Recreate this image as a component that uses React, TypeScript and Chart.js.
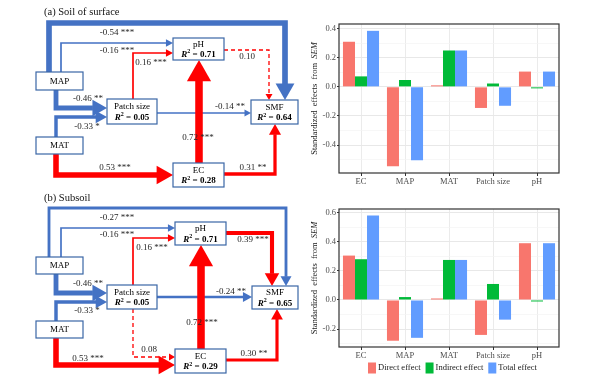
import React, { useEffect, useRef } from 'react';
import { Chart, registerables } from 'chart.js';

Chart.register(...registerables);

// ---------------- data: bar charts ----------------
const categories = ['EC', 'MAP', 'MAT', 'Patch size', 'pH'];
const effectNames = ['Direct effect', 'Indirect effect', 'Total effect'];
const effectColors = ['#F8766D', '#00BA38', '#619CFF'];

const surfaceDirect = [0.31, -0.545, 0.004, -0.145, 0.105];
const surfaceIndirect = [0.072, 0.047, 0.25, 0.023, -0.004];
const surfaceTotal = [0.385, -0.505, 0.25, -0.13, 0.105];
const surfaceYTicks = [-0.4, -0.2, 0, 0.2, 0.4];
const surfaceYRange = [-0.592, 0.432];

const subsoilDirect = [0.305, -0.28, 0.004, -0.24, 0.39];
const subsoilIndirect = [0.28, 0.02, 0.275, 0.11, -0.004];
const subsoilTotal = [0.58, -0.26, 0.275, -0.135, 0.39];
const subsoilYTicks = [-0.2, 0, 0.2, 0.4, 0.6];
const subsoilYRange = [-0.323, 0.625];

// ---------------- data: SEM diagrams ----------------
const panelTitles = ['(a) Soil of surface', '(b) Subsoil'];
const nodeNames = ['MAP', 'MAT', 'Patch size', 'pH', 'EC', 'SMF'];
const surfaceR2 = [null, null, 0.05, 0.71, 0.28, 0.64];
const subsoilR2 = [null, null, 0.05, 0.71, 0.29, 0.65];

const pathFrom = ['MAP', 'MAP', 'Patch size', 'pH', 'MAP', 'MAT', 'Patch size', 'MAT', 'EC', 'EC', 'Patch size'];
const pathTo = ['SMF', 'pH', 'pH', 'SMF', 'Patch size', 'Patch size', 'SMF', 'EC', 'pH', 'SMF', 'EC'];
const surfaceCoef = [-0.54, -0.16, 0.16, 0.10, -0.46, -0.33, -0.14, 0.53, 0.72, 0.31, null];
const surfaceSig = ['***', '***', '***', '', '**', '*', '**', '***', '***', '**', ''];
const subsoilCoef = [-0.27, -0.16, 0.16, 0.39, -0.46, -0.33, -0.24, 0.53, 0.72, 0.30, 0.08];
const subsoilSig = ['***', '***', '***', '***', '**', '*', '**', '***', '***', '**', ''];

// ---------------- layout (positions only) ----------------
const SERIF = '"Liberation Serif", "Times New Roman", serif';
const RED = '#FF0000';
const BLUE = '#4472C4';
const BOX_BORDER = '#3A66A6';

const PANELS = [
  {
    y0: 0,
    title: [44, 12],
    boxes: {
      MAP: [36, 72, 83, 90],
      MAT: [36, 137, 83, 154],
      'Patch size': [107, 99, 157, 124],
      pH: [173, 38, 224, 60],
      EC: [173, 163, 224, 187],
      SMF: [251, 100, 298, 124],
    } as Record<string, number[]>,
    routes: [
      [[49, 72], [49, 23], [285, 23], [285, 100]],
      [[61, 72], [61, 43], [173, 43]],
      [[133, 99], [133, 53], [173, 53]],
      [[224, 50], [269, 50], [269, 100]],
      [[56, 90], [56, 108], [107, 108]],
      [[56, 137], [56, 117], [107, 117]],
      [[157, 113], [251, 113]],
      [[56, 154], [56, 175], [173, 175]],
      [[199, 163], [199, 60]],
      [[224, 174], [275, 174], [275, 124]],
      null,
    ],
    labels: [[117, 33], [117, 51], [151, 63], [247, 57], [88, 99], [87, 127], [230, 107], [115, 168], [198, 138], [253, 168], null],
  },
  {
    y0: 185,
    title: [44, 13],
    boxes: {
      MAP: [36, 72, 83, 89],
      MAT: [36, 136, 83, 153],
      'Patch size': [107, 100, 157, 124],
      pH: [175, 37, 226, 60],
      EC: [175, 164, 226, 188],
      SMF: [252, 101, 298, 124],
    } as Record<string, number[]>,
    routes: [
      [[49, 72], [49, 23], [286, 23], [286, 101]],
      [[61, 72], [61, 43], [175, 43]],
      [[133, 100], [133, 53], [175, 53]],
      [[226, 48], [272, 48], [272, 101]],
      [[56, 89], [56, 108], [107, 108]],
      [[56, 136], [56, 117], [107, 117]],
      [[157, 112], [252, 112]],
      [[56, 153], [56, 180], [175, 180]],
      [[201, 164], [201, 60]],
      [[226, 175], [277, 175], [277, 124]],
      [[133, 124], [133, 172], [175, 172]],
    ],
    labels: [[117, 33], [117, 50], [152, 63], [253, 55], [88, 99], [87, 126], [231, 107], [88, 174], [202, 138], [254, 169], [149, 165]],
  },
];

function drawArrow(ctx: CanvasRenderingContext2D, pts: number[][], lw: number, color: string, dashed: boolean) {
  const n = pts.length;
  const [tx, ty] = pts[n - 1];
  const [sx, sy] = pts[n - 2];
  const len = Math.hypot(tx - sx, ty - sy) || 1;
  const dx = (tx - sx) / len;
  const dy = (ty - sy) / len;
  const L = dashed ? 6 : 2.4 * lw + 3;
  const W = dashed ? 7 : 2.8 * lw + 3;
  const bx = tx - dx * L;
  const by = ty - dy * L;
  ctx.save();
  ctx.strokeStyle = color;
  ctx.fillStyle = color;
  ctx.lineWidth = lw;
  ctx.lineJoin = 'miter';
  ctx.lineCap = 'butt';
  if (dashed) ctx.setLineDash([4, 3]);
  ctx.beginPath();
  ctx.moveTo(pts[0][0], pts[0][1]);
  for (let k = 1; k < n - 1; k++) ctx.lineTo(pts[k][0], pts[k][1]);
  ctx.lineTo(bx + dx * 0.5, by + dy * 0.5);
  ctx.stroke();
  ctx.setLineDash([]);
  ctx.beginPath();
  ctx.moveTo(tx, ty);
  ctx.lineTo(bx - dy * W / 2, by + dx * W / 2);
  ctx.lineTo(bx + dy * W / 2, by - dx * W / 2);
  ctx.closePath();
  ctx.fill();
  ctx.restore();
}

function drawR2(ctx: CanvasRenderingContext2D, cx: number, cy: number, r2: number) {
  const fR = `italic bold 9px ${SERIF}`;
  const fSup = `bold 6px ${SERIF}`;
  const fRest = `bold 9px ${SERIF}`;
  const rest = ` = ${r2.toFixed(2)}`;
  ctx.font = fR;
  const wR = ctx.measureText('R').width;
  ctx.font = fSup;
  const wS = ctx.measureText('2').width;
  ctx.font = fRest;
  const wRest = ctx.measureText(rest).width;
  let x = cx - (wR + wS + wRest) / 2;
  ctx.textAlign = 'left';
  ctx.textBaseline = 'middle';
  ctx.fillStyle = '#000';
  ctx.font = fR;
  ctx.fillText('R', x, cy);
  x += wR;
  ctx.font = fSup;
  ctx.fillText('2', x, cy - 3);
  x += wS;
  ctx.font = fRest;
  ctx.fillText(rest, x, cy);
}

const semPlugin = {
  id: 'semDiagram',
  afterDraw(chart: any) {
    const ctx: CanvasRenderingContext2D = chart.ctx;
    const xs = chart.scales.x;
    const ys = chart.scales.y;
    PANELS.forEach((panel, pi) => {
      const coefs = pi === 0 ? surfaceCoef : subsoilCoef;
      const sigs = pi === 0 ? surfaceSig : subsoilSig;
      const r2s = pi === 0 ? surfaceR2 : subsoilR2;
      const P = (p: number[]) => [xs.getPixelForValue(p[0]), ys.getPixelForValue(p[1] + panel.y0)];

      // title
      ctx.save();
      ctx.font = `10.5px ${SERIF}`;
      ctx.fillStyle = '#111';
      ctx.textAlign = 'left';
      ctx.textBaseline = 'middle';
      const tp = P(panel.title);
      ctx.fillText(panelTitles[pi], tp[0], tp[1]);
      ctx.restore();

      // arrows
      pathFrom.forEach((_from, i) => {
        const c = coefs[i];
        const route = panel.routes[i];
        if (c == null || !route) return;
        const dashed = sigs[i] === '';
        const color = c >= 0 ? RED : BLUE;
        const lw = dashed ? 1.3 : Math.max(1.4, Math.abs(c) * 10.5);
        drawArrow(ctx, route.map(P), lw, color, dashed);
      });

      // boxes
      nodeNames.forEach((name, ni) => {
        const b = panel.boxes[name];
        const [x1, y1] = P([b[0], b[1]]);
        const [x2, y2] = P([b[2], b[3]]);
        ctx.save();
        ctx.fillStyle = '#fff';
        ctx.fillRect(x1, y1, x2 - x1, y2 - y1);
        ctx.strokeStyle = BOX_BORDER;
        ctx.lineWidth = 1.2;
        ctx.strokeRect(x1, y1, x2 - x1, y2 - y1);
        const cx = (x1 + x2) / 2;
        const h = y2 - y1;
        ctx.fillStyle = '#000';
        ctx.font = `9px ${SERIF}`;
        ctx.textAlign = 'center';
        ctx.textBaseline = 'middle';
        const r2 = r2s[ni];
        if (r2 == null) {
          ctx.fillText(name, cx, y1 + h / 2 + 0.5);
        } else {
          ctx.fillText(name, cx, y1 + h * 0.3);
          drawR2(ctx, cx, y1 + h * 0.75, r2);
        }
        ctx.restore();
      });

      // coefficient labels
      pathFrom.forEach((_from, i) => {
        const c = coefs[i];
        const lp = panel.labels[i];
        if (c == null || !lp) return;
        const txt = `${c.toFixed(2)} ${sigs[i]}`.trim();
        const [lx, ly] = P(lp);
        ctx.save();
        ctx.font = `9px ${SERIF}`;
        ctx.fillStyle = '#262626';
        ctx.textAlign = 'center';
        ctx.textBaseline = 'middle';
        ctx.fillText(txt, lx, ly);
        ctx.restore();
      });
    });
  },
};

function Diagram() {
  const ref = useRef<HTMLCanvasElement>(null);
  useEffect(() => {
    const chart = new Chart(ref.current as HTMLCanvasElement, {
      type: 'scatter',
      data: {
        datasets: [
          {
            data: nodeNames.map((n) => {
              const b = PANELS[0].boxes[n];
              return { x: (b[0] + b[2]) / 2, y: (b[1] + b[3]) / 2 };
            }),
            pointRadius: 0,
          },
        ],
      },
      options: {
        animation: false,
        responsive: false,
        devicePixelRatio: 1,
        layout: { padding: 0 },
        events: [],
        plugins: { legend: { display: false }, tooltip: { enabled: false } },
        scales: {
          x: { type: 'linear', min: 0, max: 300, display: false },
          y: { type: 'linear', min: 0, max: 384, reverse: true, display: false },
        },
      },
      plugins: [semPlugin],
    } as any);
    return () => chart.destroy();
  }, []);
  return (
    <canvas
      ref={ref}
      width={300}
      height={384}
      style={{ position: 'absolute', left: 0, top: 0, width: 300, height: 384 }}
    />
  );
}

const near = (a: number, b: number) => Math.abs(a - b) < 1e-6;

function EffectChart(props: {
  top: number;
  height: number;
  direct: number[];
  indirect: number[];
  total: number[];
  yTicks: number[];
  yRange: number[];
  legend: boolean;
  bottomPad: number;
}) {
  const ref = useRef<HTMLCanvasElement>(null);
  useEffect(() => {
    const { direct, indirect, total, yTicks, yRange, legend, bottomPad } = props;
    const step = yTicks[1] - yTicks[0];
    const gridVals: number[] = [];
    for (let i = 0; i < yTicks.length; i++) gridVals.push(yTicks[i]);
    for (let i = -1; i < yTicks.length; i++) {
      const m = yTicks[0] + step * (i + 0.5);
      if (m > yRange[0] && m < yRange[1]) gridVals.push(m);
    }
    gridVals.sort((a, b) => a - b);
    const isMajor = (v: number) => yTicks.some((t) => near(t, v));

    const framePlugin = {
      id: 'frame',
      afterDraw(chart: any) {
        const ctx: CanvasRenderingContext2D = chart.ctx;
        const a = chart.chartArea;
        ctx.save();
        ctx.strokeStyle = '#333';
        ctx.lineWidth = 1.2;
        ctx.strokeRect(a.left, a.top, a.right - a.left, a.bottom - a.top);
        // y axis title
        const cy = (a.top + a.bottom) / 2;
        const p1 = 'Standardized  effects  from  ';
        const p2 = 'SEM';
        ctx.font = `8.5px ${SERIF}`;
        const w1 = ctx.measureText(p1).width;
        ctx.font = `italic 8.5px ${SERIF}`;
        const w2 = ctx.measureText(p2).width;
        ctx.translate(15, cy);
        ctx.rotate(-Math.PI / 2);
        ctx.fillStyle = '#1a1a1a';
        ctx.textAlign = 'left';
        ctx.textBaseline = 'middle';
        ctx.font = `8.5px ${SERIF}`;
        ctx.fillText(p1, -(w1 + w2) / 2, 0);
        ctx.font = `italic 8.5px ${SERIF}`;
        ctx.fillText(p2, -(w1 + w2) / 2 + w1, 0);
        ctx.restore();

        if (legend) {
          ctx.save();
          const ly = a.bottom + 21;
          let x = 68;
          ctx.font = `8.5px ${SERIF}`;
          ctx.textAlign = 'left';
          ctx.textBaseline = 'middle';
          chart.data.datasets.forEach((ds: any) => {
            ctx.fillStyle = ds.backgroundColor;
            ctx.fillRect(x, ly - 5.5, 8, 11);
            x += 10;
            ctx.fillStyle = '#1a1a1a';
            ctx.fillText(ds.label, x, ly);
            x += ctx.measureText(ds.label).width + 5;
          });
          ctx.restore();
        }
      },
    };

    const series = [direct, indirect, total];
    const chart = new Chart(ref.current as HTMLCanvasElement, {
      type: 'bar',
      data: {
        labels: categories,
        datasets: series.map((d, i) => ({
          label: effectNames[i],
          data: d,
          backgroundColor: effectColors[i],
          borderWidth: 0,
          minBarLength: 1.5,
          categoryPercentage: 0.82,
          barPercentage: 1,
        })),
      },
      options: {
        animation: false,
        responsive: false,
        devicePixelRatio: 1,
        events: [],
        layout: { padding: { left: 9, right: 41, top: 24, bottom: bottomPad } },
        plugins: { legend: { display: false }, tooltip: { enabled: false } },
        scales: {
          x: {
            border: { display: false },
            grid: {
              offset: false,
              color: '#ebebeb',
              lineWidth: 1,
              drawTicks: true,
              tickLength: 3,
              tickColor: '#333',
            },
            ticks: {
              font: { family: SERIF, size: 8.5 },
              color: '#4d4d4d',
              padding: 1,
              maxRotation: 0,
              autoSkip: false,
            },
            afterFit: (s: any) => {
              s.height = 19;
            },
          },
          y: {
            min: yRange[0],
            max: yRange[1],
            border: { display: false },
            afterBuildTicks: (s: any) => {
              s.ticks = gridVals.map((v) => ({ value: v }));
            },
            grid: {
              color: (c: any) => (isMajor(c.tick?.value) ? '#e8e8e8' : '#f3f3f3'),
              lineWidth: (c: any) => (isMajor(c.tick?.value) ? 1 : 0.7),
              tickColor: (c: any) => (isMajor(c.tick?.value) ? '#333' : 'rgba(0,0,0,0)'),
              tickLength: 2,
            },
            ticks: {
              font: { family: SERIF, size: 8.5 },
              color: '#4d4d4d',
              padding: 1,
              callback: (v: any) => (isMajor(Number(v)) ? Number(v).toFixed(1) : ''),
            },
            afterFit: (s: any) => {
              s.width = 30;
            },
          },
        },
      },
      plugins: [framePlugin],
    } as any);
    return () => chart.destroy();
  }, []);
  return (
    <canvas
      ref={ref}
      width={300}
      height={props.height}
      style={{ position: 'absolute', left: 300, top: props.top, width: 300, height: props.height }}
    />
  );
}

export default function App() {
  return (
    <div
      style={{
        position: 'fixed',
        left: 0,
        top: 0,
        width: 600,
        height: 384,
        background: '#fff',
        overflow: 'hidden',
      }}
    >
      <Diagram />
      <EffectChart
        top={0}
        height={192}
        direct={surfaceDirect}
        indirect={surfaceIndirect}
        total={surfaceTotal}
        yTicks={surfaceYTicks}
        yRange={surfaceYRange}
        legend={false}
        bottomPad={0}
      />
      <EffectChart
        top={185}
        height={199}
        direct={subsoilDirect}
        indirect={subsoilIndirect}
        total={subsoilTotal}
        yTicks={subsoilYTicks}
        yRange={subsoilYRange}
        legend={true}
        bottomPad={18}
      />
    </div>
  );
}
